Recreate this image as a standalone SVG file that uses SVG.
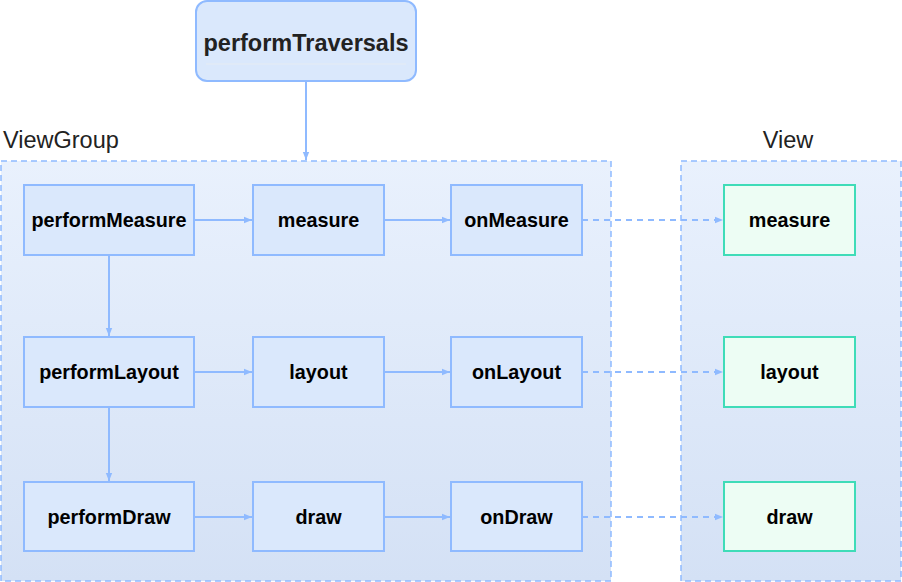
<svg xmlns="http://www.w3.org/2000/svg" width="902" height="582" viewBox="0 0 902 582">
<defs>
<linearGradient id="bg" x1="0" y1="0" x2="0" y2="1">
<stop offset="0" stop-color="#e9f1fd"/>
<stop offset="1" stop-color="#d4e1f5"/>
</linearGradient>
<marker id="ah" viewBox="0 0 10 10" refX="10" refY="5" markerWidth="8" markerHeight="8" markerUnits="userSpaceOnUse" orient="auto">
<path d="M0,1 L10,5 L0,9 z" fill="#8fbaff"/>
</marker>
<style>
.grp{fill:url(#bg);stroke:#8fbaff;stroke-width:1.5;stroke-dasharray:6 4}
.n rect{fill:#dae8fc;stroke:#8fbaff;stroke-width:2}
.v rect{fill:#edfdf4;stroke:#3fdcb8;stroke-width:2}
.n text,.v text{font-family:"Liberation Sans",Arial,sans-serif;font-weight:bold;font-size:19.8px;fill:#000;text-anchor:middle}
.lbl{font-family:"Liberation Sans",Arial,sans-serif;font-size:23.5px;fill:#222}
.c{stroke:#8fbaff;stroke-width:2;fill:none;marker-end:url(#ah)}
.d{stroke-dasharray:6 5}
</style>
</defs>
<g id="viewgroup-container">
<rect class="grp" x="1" y="161" width="610" height="420"/>
<text class="lbl" x="3" y="148">ViewGroup</text>
</g>
<g id="view-container">
<rect class="grp" x="681" y="161" width="220" height="420"/>
<text class="lbl" x="788" y="148" text-anchor="middle">View</text>
</g>
<g id="performTraversals">
<rect x="196" y="1" width="220" height="80" rx="11" fill="#dae8fc" stroke="#8fbaff" stroke-width="2"/>
<line x1="206" y1="64" x2="406" y2="64" stroke="#e6ecf3" stroke-width="1"/>
<text x="306" y="51" text-anchor="middle" font-family="Liberation Sans,Arial,sans-serif" font-weight="bold" font-size="23.5" fill="#222">performTraversals</text>
</g>
<g id="connectors">
<path class="c" d="M306,81 V160"/>
<path class="c" d="M194,220 H252"/>
<path class="c" d="M384,220 H450"/>
<path class="c d" d="M582,220 H723"/>
<path class="c" d="M109,256 V336"/>
<path class="c" d="M194,372 H252"/>
<path class="c" d="M384,372 H450"/>
<path class="c d" d="M582,372 H723"/>
<path class="c" d="M109,407 V481"/>
<path class="c" d="M194,517 H252"/>
<path class="c" d="M384,517 H450"/>
<path class="c d" d="M582,517 H723"/>
</g>
<g id="performMeasure" class="n"><rect x="24" y="185" width="170" height="70"/><text x="109" y="227">performMeasure</text></g>
<g id="vg-measure" class="n"><rect x="253" y="185" width="131" height="70"/><text x="318.5" y="227">measure</text></g>
<g id="onMeasure" class="n"><rect x="451" y="185" width="131" height="70"/><text x="516.5" y="227">onMeasure</text></g>
<g id="performLayout" class="n"><rect x="24" y="337" width="170" height="70"/><text x="109" y="379">performLayout</text></g>
<g id="vg-layout" class="n"><rect x="253" y="337" width="131" height="70"/><text x="318.5" y="379">layout</text></g>
<g id="onLayout" class="n"><rect x="451" y="337" width="131" height="70"/><text x="516.5" y="379">onLayout</text></g>
<g id="performDraw" class="n"><rect x="24" y="482" width="170" height="69"/><text x="109" y="524">performDraw</text></g>
<g id="vg-draw" class="n"><rect x="253" y="482" width="131" height="69"/><text x="318.5" y="524">draw</text></g>
<g id="onDraw" class="n"><rect x="451" y="482" width="131" height="69"/><text x="516.5" y="524">onDraw</text></g>
<g id="v-measure" class="v"><rect x="724" y="185" width="131" height="70"/><text x="789.5" y="227">measure</text></g>
<g id="v-layout" class="v"><rect x="724" y="337" width="131" height="70"/><text x="789.5" y="379">layout</text></g>
<g id="v-draw" class="v"><rect x="724" y="482" width="131" height="69"/><text x="789.5" y="524">draw</text></g>
</svg>
